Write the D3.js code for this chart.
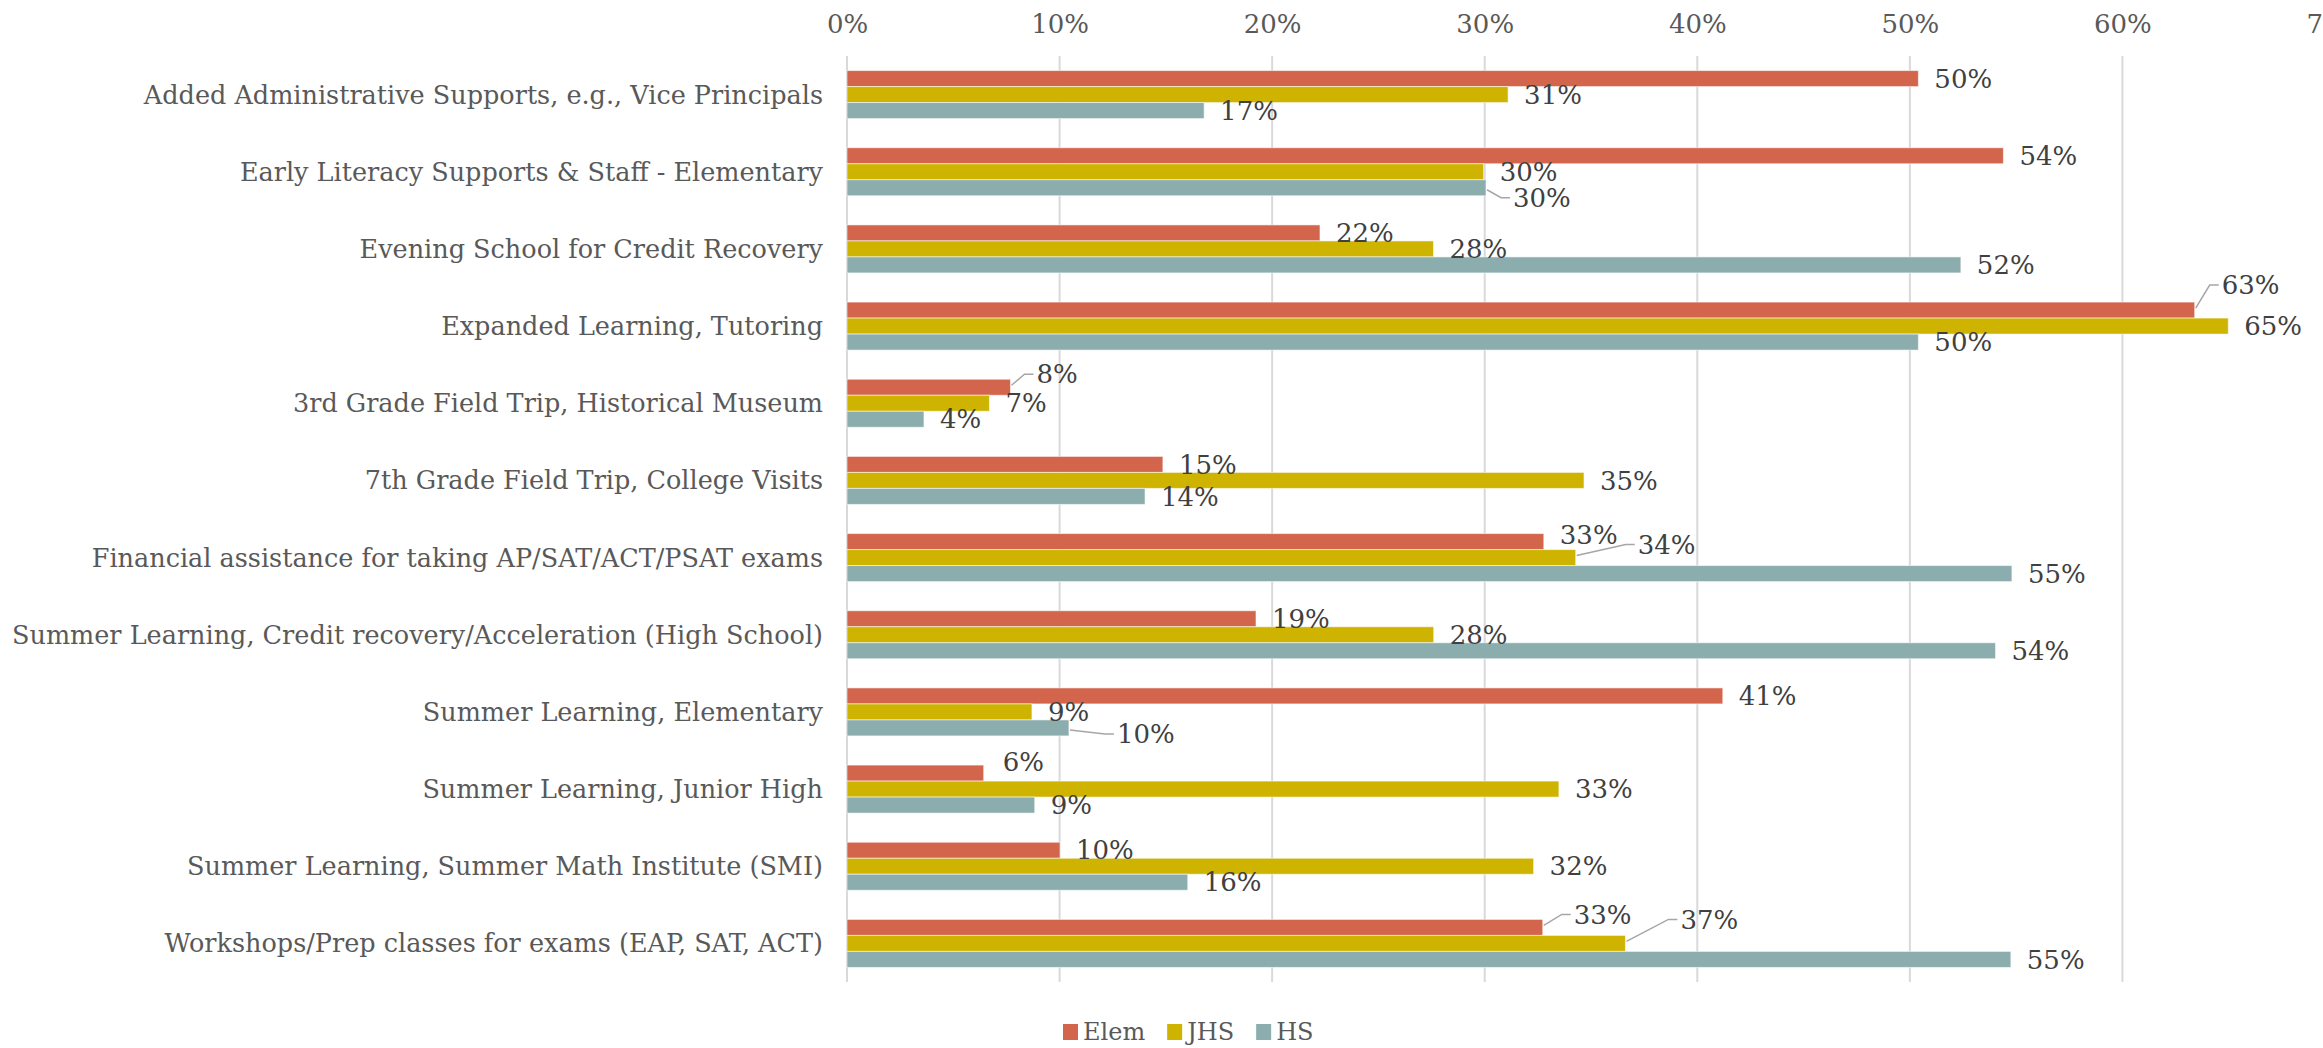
<!DOCTYPE html>
<html>
<head>
<meta charset="utf-8">
<script src="https://cdn.jsdelivr.net/npm/d3@7"></script>
<style>
  html, body { margin: 0; padding: 0; background: #fff; overflow: hidden; }
  svg { display: block; font-family: "DejaVu Serif", serif; }
</style>
</head>
<body>
<svg id="chart" width="2323" height="1048"></svg>
<script>
// ---- data ----
const categories = [
  "Added Administrative Supports, e.g., Vice Principals",
  "Early Literacy Supports & Staff - Elementary",
  "Evening School for Credit Recovery",
  "Expanded Learning, Tutoring",
  "3rd Grade Field Trip, Historical Museum",
  "7th Grade Field Trip, College Visits",
  "Financial assistance for taking AP/SAT/ACT/PSAT exams",
  "Summer Learning, Credit recovery/Acceleration (High School)",
  "Summer Learning, Elementary",
  "Summer Learning, Junior High",
  "Summer Learning, Summer Math Institute (SMI)",
  "Workshops/Prep classes for exams (EAP, SAT, ACT)"
];
const seriesNames = ["Elem", "JHS", "HS"];
const elem = [0.504, 0.544, 0.2225, 0.634, 0.0769, 0.1486, 0.3278, 0.1924, 0.412, 0.0643, 0.1002, 0.3273];
const jhs  = [0.311, 0.2995, 0.2759, 0.6498, 0.067, 0.3467, 0.3428, 0.276, 0.087, 0.3349, 0.323, 0.3662];
const hs   = [0.168, 0.3006, 0.524, 0.504, 0.0362, 0.1402, 0.548, 0.5403, 0.1044, 0.0883, 0.1603, 0.5475];
const tickValues = [0, 0.1, 0.2, 0.3, 0.4, 0.5, 0.6, 0.7];

// ---- style / layout ----
const colors = { Elem: "#D2654B", JHS: "#CEB400", HS: "#8BADAD" };
const plot = { left: 847, right: 2335, top: 56, bottom: 982 };
const catFont = 25.5;
const numFont = 26;
// label nudges (dx, dy in px) for labels moved off the default spot, as in the reference
const labelNudge = {
  "1|HS":   { dx: 11, dy: 10, leader: true },
  "3|Elem": { dx: 11, dy: -25, leader: true },
  "4|Elem": { dx: 10, dy: -13, leader: true },
  "6|Elem": { dx: 0, dy: -7 },
  "6|JHS":  { dx: 46, dy: -13, leader: true },
  "8|HS":   { dx: 32, dy: 6, leader: true },
  "9|Elem": { dx: 3, dy: -11 },
  "11|Elem":{ dx: 15, dy: -13, leader: true },
  "11|JHS": { dx: 39, dy: -24, leader: true }
};

const rows = categories.map((c, i) => ({ category: c, idx: i, Elem: elem[i], JHS: jhs[i], HS: hs[i] }));

const svg = d3.select("#chart");

const x = d3.scaleLinear().domain([0, 0.7]).range([plot.left, plot.right]);
const y = d3.scaleBand().domain(categories).range([plot.top, plot.bottom])
  .paddingInner(0.378).paddingOuter(0.189);
const ySub = d3.scaleBand().domain(seriesNames).range([0, y.bandwidth()]).padding(0);
const fmt = d3.format(".0%");

// gridlines
svg.append("g").selectAll("line").data(tickValues).join("line")
  .attr("x1", d => x(d)).attr("x2", d => x(d))
  .attr("y1", plot.top).attr("y2", plot.bottom)
  .attr("stroke", "#D9D9D9").attr("stroke-width", 2);

// top axis labels
const axis = d3.axisTop(x).tickValues(tickValues).tickFormat(fmt).tickSize(0).tickPadding(0);
const axG = svg.append("g").attr("transform", `translate(0, 24)`).call(axis);
axG.select(".domain").remove();
axG.selectAll("text")
  .attr("font-family", "DejaVu Serif, serif")
  .attr("font-size", numFont)
  .attr("fill", "#595959")
  .attr("dy", "0.35em");

// category labels
svg.append("g").selectAll("text").data(categories).join("text")
  .attr("x", plot.left - 24)
  .attr("y", d => y(d) + y.bandwidth() / 2)
  .attr("dy", "0.35em")
  .attr("text-anchor", "end")
  .attr("font-size", catFont)
  .attr("fill", "#595959")
  .text(d => d);

// bars
const flat = [];
rows.forEach(r => seriesNames.forEach(s => flat.push({ row: r, s, v: r[s] })));

svg.append("g").selectAll("rect").data(flat).join("rect")
  .attr("x", x(0))
  .attr("y", d => y(d.row.category) + ySub(d.s))
  .attr("width", d => x(d.v) - x(0))
  .attr("height", ySub.bandwidth())
  .attr("fill", d => colors[d.s])
  .attr("stroke", "#ffffff").attr("stroke-opacity", 0.55).attr("stroke-width", 1);

// data labels
const lblG = svg.append("g");
flat.forEach(d => {
  const key = d.row.idx + "|" + d.s;
  const n = labelNudge[key] || { dx: 0, dy: 0 };
  const bx = x(d.v);
  const by = y(d.row.category) + ySub(d.s) + ySub.bandwidth() / 2;
  const lx = bx + 16 + n.dx;
  const ly = by + n.dy;
  if (n.leader) {
    const startY = n.dy < 0 ? by - 2 : by + 2;
    lblG.append("polyline")
      .attr("points", [[bx + 1, startY], [lx - 12, ly], [lx - 3, ly]].map(p => p.join(",")).join(" "))
      .attr("fill", "none").attr("stroke", "#A6A6A6").attr("stroke-width", 1.5);
  }
  lblG.append("text")
    .attr("x", lx).attr("y", ly).attr("dy", "0.35em")
    .attr("font-size", numFont)
    .attr("fill", "#404040")
    .text(fmt(d.v));
});

// legend
const leg = svg.append("g").attr("transform", "translate(1063, 1032)");
let cx = 0;
seriesNames.forEach(s => {
  leg.append("rect").attr("x", cx).attr("y", -8).attr("width", 15).attr("height", 16).attr("fill", colors[s]);
  const t = leg.append("text").attr("x", cx + 20).attr("y", 0).attr("dy", "0.35em")
    .attr("font-size", 24).attr("fill", "#595959").text(s);
  cx += 20 + t.node().getComputedTextLength() + 22;
});
</script>
</body>
</html>
